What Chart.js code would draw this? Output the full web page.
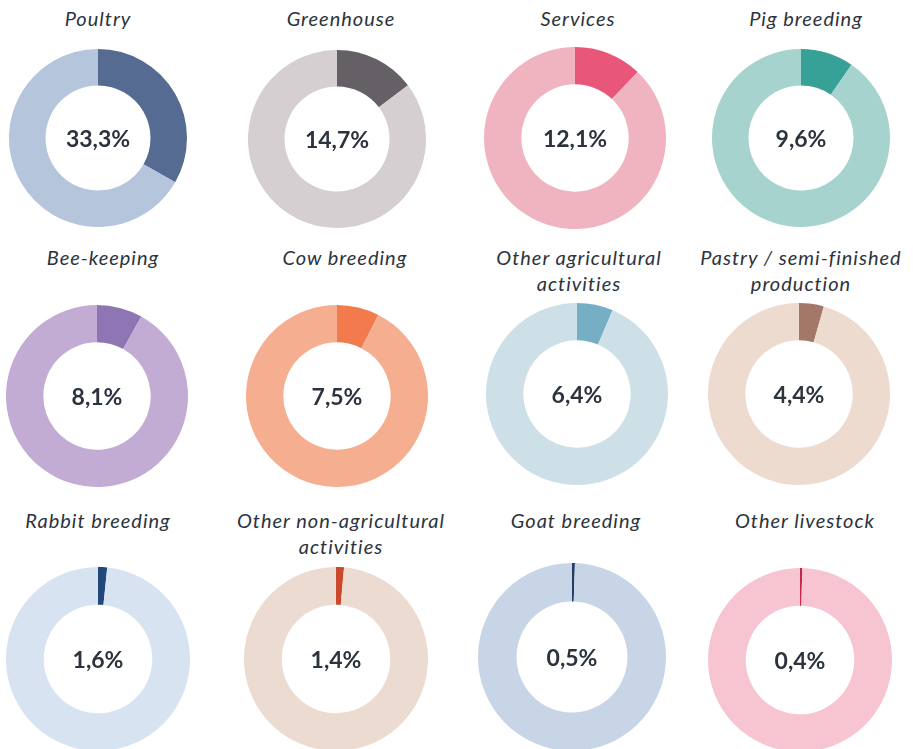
<!DOCTYPE html>
<html>
<head>
<meta charset="utf-8">
<script src="https://cdn.jsdelivr.net/npm/chart.js@4/dist/chart.umd.min.js"></script>
<style>
  html, body { margin: 0; padding: 0; background: #ffffff; }
  body { width: 913px; height: 749px; position: relative; overflow: hidden; }
  .ttl { position: absolute; transform: translateX(-50%); white-space: nowrap; text-align: center;
         font-family: "Lato", "Open Sans", sans-serif; font-style: italic; font-size: 20px;
         line-height: 26px; color: #2c333d; letter-spacing: 1px; }
  .pct { position: absolute; transform: translate(-50%, -50%); white-space: nowrap;
         font-family: "Lato", "Open Sans", sans-serif; font-weight: 700; font-size: 23px; color: #2c333d; }
  canvas { position: absolute; }
</style>
</head>
<body>
<script>
// ---- data ----
const categories = [
  'Poultry', 'Greenhouse', 'Services', 'Pig breeding',
  'Bee-keeping', 'Cow breeding', 'Other agricultural activities', 'Pastry / semi-finished production',
  'Rabbit breeding', 'Other non-agricultural activities', 'Goat breeding', 'Other livestock'
];
const titleLines = [
  ['Poultry'], ['Greenhouse'], ['Services'], ['Pig breeding'],
  ['Bee-keeping'], ['Cow breeding'], ['Other agricultural', 'activities'], ['Pastry / semi-finished', 'production'],
  ['Rabbit breeding'], ['Other non-agricultural', 'activities'], ['Goat breeding'], ['Other livestock']
];
const shares = [33.3, 14.7, 12.1, 9.6, 8.1, 7.5, 6.4, 4.4, 1.6, 1.4, 0.5, 0.4];
const shareLabels = ['33,3%', '14,7%', '12,1%', '9,6%', '8,1%', '7,5%', '6,4%', '4,4%', '1,6%', '1,4%', '0,5%', '0,4%'];

// ---- styles ----
const darkColors = ['#566b91', '#656066', '#e8577a', '#37a097', '#8e75b4', '#f27a4c',
                    '#76aec6', '#a47868', '#22497a', '#c9492c', '#213f66', '#c8254a'];
const lightColors = ['#b4c5dc', '#d5cfd2', '#f0b3c0', '#a6d3ce', '#c3acd4', '#f6ae90',
                     '#cde0e7', '#eddbd0', '#d8e3f1', '#ecdbd0', '#c8d5e6', '#f6c5d1'];

// ---- layout: donut centre x, centre y, radius; title centre x, title top ----
const layout = [
  [98, 138, 89, 98, 5],   [337, 139, 89, 341, 5],   [575, 138, 91, 578, 5],  [801, 138, 89, 806, 5],
  [97, 396, 91, 103, 244], [337, 396, 91, 345, 244], [577, 394, 91, 579, 244], [799, 394, 91, 801, 244],
  [98, 659, 92, 98, 507],  [336, 659, 92, 341, 507], [572, 657, 94, 576, 507], [800, 660, 92, 805, 507]
];

categories.forEach((cat, i) => {
  const [cx, cy, r, tx, ty] = layout[i];

  const t = document.createElement('div');
  t.className = 'ttl';
  t.style.left = tx + 'px';
  t.style.top = ty + 'px';
  t.innerHTML = titleLines[i].join('<br>');
  document.body.appendChild(t);

  const c = document.createElement('canvas');
  c.width = 2 * r; c.height = 2 * r;
  c.style.left = (cx - r) + 'px';
  c.style.top = (cy - r) + 'px';
  c.style.width = 2 * r + 'px'; c.style.height = 2 * r + 'px';
  document.body.appendChild(c);

  new Chart(c, {
    type: 'doughnut',
    data: {
      labels: [cat, 'Rest'],
      datasets: [{
        data: [shares[i], 100 - shares[i]],
        backgroundColor: [darkColors[i], lightColors[i]],
        borderWidth: 0,
        hoverOffset: 0
      }]
    },
    options: {
      responsive: false,
      animation: false,
      cutout: '59%',
      layout: { padding: 0 },
      plugins: { legend: { display: false }, tooltip: { enabled: false }, title: { display: false } }
    }
  });

  const p = document.createElement('div');
  p.className = 'pct';
  p.style.left = cx + 'px';
  p.style.top = cy + 'px';
  p.textContent = shareLabels[i];
  document.body.appendChild(p);
});
</script>
</body>
</html>
